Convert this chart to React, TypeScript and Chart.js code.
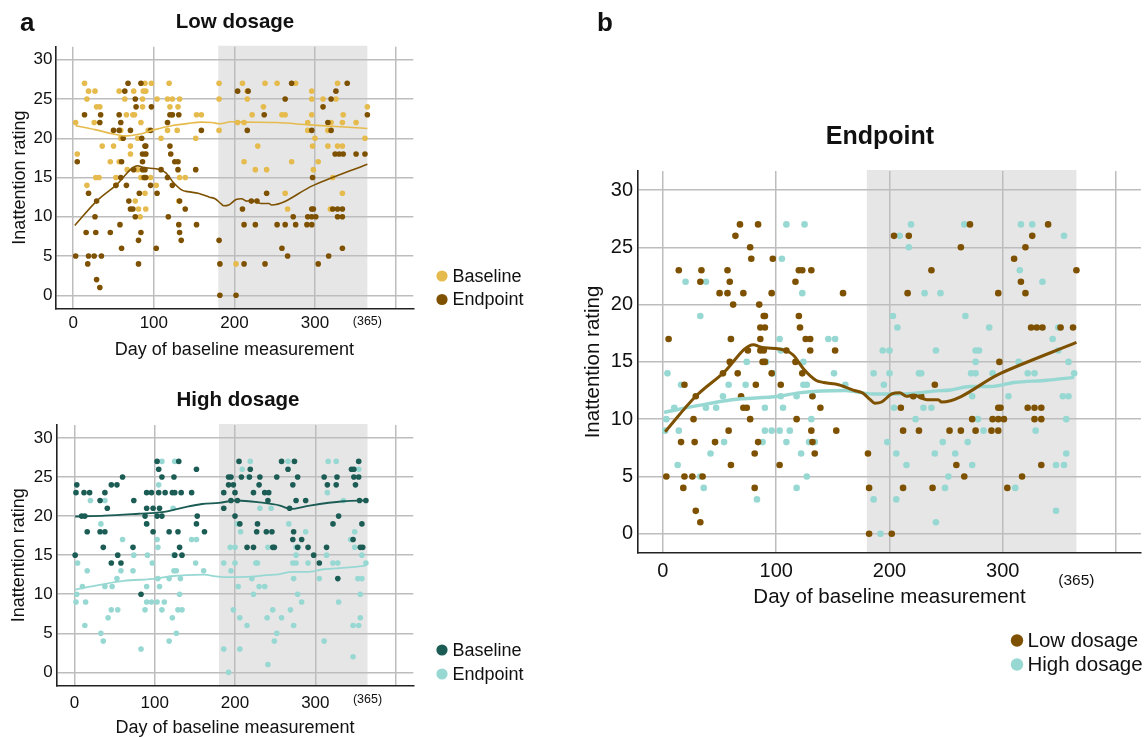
import React, { useEffect, useRef } from 'react';
import { Chart, registerables } from 'chart.js';

Chart.register(...registerables);

const FONT = '"Liberation Sans", Arial, Helvetica, sans-serif';

// ---------- axis / annotation values ----------
const xTicks = [0, 100, 200, 300, 400];
const xTickLabels = ['0', '100', '200', '300', ''];
const yTicks = [0, 5, 10, 15, 20, 25, 30];
const xRange = [-22, 422];
const yRange = [-1.68, 31.66];
const shadeFrom = 180;
const shadeTo = 365;
const yearEnd = 365;
const yearEndLabel = '(365)';

// ---------- data: [day, rating] ----------
const lowBaseline = [
  [14, 27], [89, 27], [97, 27], [119, 27], [181, 27], [210, 27], [238, 27], [253, 27], [276, 27], [328, 27],
  [19, 26], [27, 26], [57, 26], [75, 26], [87, 26], [90, 26], [216, 26], [296, 26],
  [17, 25], [64, 25], [86, 25], [104, 25], [117, 25], [123, 25], [132, 25], [181, 25], [216, 25], [296, 25], [310, 25], [326, 25],
  [29, 24], [33, 24], [86, 24], [120, 24], [130, 24], [236, 24], [365, 24],
  [66, 23], [74, 23], [76, 23], [123, 23], [153, 23], [159, 23], [222, 23], [259, 23], [263, 23], [296, 23], [335, 23],
  [3, 22], [26, 22], [84, 22], [204, 22], [212, 22], [291, 22], [320, 22], [334, 22], [351, 22],
  [59, 21], [93, 21], [117, 21], [129, 21], [181, 21], [291, 21], [316, 21],
  [59, 20], [80, 20], [109, 20], [152, 20], [300, 20], [362, 20],
  [36, 19], [50, 19], [71, 19], [229, 19], [297, 19], [316, 19], [328, 19], [334, 19],
  [5, 18], [71, 18], [90, 18],
  [46, 17], [57, 17], [212, 17], [271, 17], [304, 17],
  [67, 16], [80, 16], [226, 16], [240, 16], [298, 16],
  [28, 15], [32, 15], [53, 15], [84, 15], [96, 15], [132, 15], [139, 15], [322, 15],
  [17, 14], [53, 14], [103, 14],
  [89, 13], [263, 13], [334, 13],
  [77, 12], [131, 12],
  [81, 11], [90, 11], [266, 11], [319, 11],
  [83, 10],
  [202, 4],
];

const lowEndpoint = [
  [68, 27], [84, 27], [271, 27], [340, 27],
  [64, 26], [204, 26], [217, 26], [326, 26],
  [77, 25], [263, 25], [320, 25],
  [78, 24], [97, 24], [310, 24],
  [14, 23], [34, 23], [57, 23], [120, 23], [123, 23], [131, 23], [237, 23], [365, 23],
  [33, 22], [59, 22], [117, 22], [316, 22],
  [50, 21], [57, 21], [71, 21], [96, 21], [159, 21], [216, 21], [296, 21], [320, 21],
  [62, 20], [85, 20],
  [89, 19], [90, 19], [120, 19],
  [86, 18], [90, 18], [121, 18], [325, 18], [330, 18], [335, 18], [351, 18], [362, 18],
  [5, 17], [60, 17], [86, 17], [126, 17], [130, 17],
  [75, 16], [86, 16], [89, 16], [109, 16], [130, 16], [152, 16],
  [59, 15], [88, 15], [90, 15], [117, 15], [297, 15],
  [53, 14], [66, 14], [96, 14], [123, 14],
  [19, 13], [82, 13], [104, 13], [240, 13],
  [29, 12], [69, 12], [132, 12], [221, 12], [228, 12],
  [71, 11], [74, 11], [139, 11], [210, 11], [296, 11], [298, 11], [322, 11], [328, 11], [334, 11],
  [27, 10], [77, 10], [118, 10], [273, 10], [291, 10], [296, 10], [301, 10], [328, 10], [334, 10],
  [58, 9], [131, 9], [153, 9], [212, 9], [226, 9], [253, 9], [263, 9], [276, 9], [290, 9], [296, 9],
  [16, 8], [28, 8], [46, 8], [84, 8], [132, 8],
  [81, 7], [134, 7], [181, 7],
  [60, 6], [103, 6], [259, 6], [334, 6],
  [3, 5], [19, 5], [26, 5], [35, 5], [266, 5], [317, 5],
  [18, 4], [81, 4], [182, 4], [212, 4], [238, 4], [304, 4],
  [29, 2], [33, 1], [182, 0], [202, 0],
];

const highBaseline = [
  [103, 27], [130, 27], [205, 27], [258, 27], [274, 27], [354, 27],
  [105, 26], [152, 26], [219, 26], [266, 26], [345, 26], [348, 26],
  [60, 25], [109, 25], [124, 25], [192, 25], [195, 25], [208, 25], [218, 25], [231, 25], [252, 25], [278, 25], [311, 25], [327, 25], [348, 25], [354, 25],
  [3, 24], [46, 24], [53, 24], [192, 24], [198, 24], [230, 24], [272, 24], [315, 24], [326, 24], [350, 24],
  [2, 23], [12, 23], [19, 23], [38, 23], [90, 23], [96, 23], [105, 23], [113, 23], [122, 23], [125, 23], [133, 23], [146, 23], [186, 23], [200, 23], [223, 23], [237, 23], [242, 23],
  [32, 22], [74, 22], [195, 22], [203, 22], [241, 22], [276, 22], [288, 22], [355, 22], [363, 22],
  [41, 21], [90, 21], [98, 21], [106, 21], [186, 21], [268, 21],
  [9, 20], [13, 20], [88, 20], [103, 20], [109, 20], [153, 20], [200, 20], [329, 20],
  [90, 19], [152, 19], [206, 19], [228, 19], [322, 19], [358, 19],
  [16, 18], [32, 18], [38, 18], [98, 18], [118, 18], [129, 18], [162, 18], [227, 18], [239, 18], [246, 18], [273, 18],
  [272, 17], [283, 17], [347, 17],
  [36, 16], [73, 16], [131, 16], [215, 16], [223, 16], [247, 16], [249, 16], [278, 16], [291, 16], [314, 16], [356, 16], [359, 16],
  [1, 15], [54, 15], [125, 15], [134, 15], [298, 15],
  [46, 14], [58, 14], [305, 14],
  [328, 12],
  [83, 10],
];

const highEndpoint = [
  [109, 27], [125, 27], [219, 27], [266, 27], [316, 27], [326, 27],
  [209, 26], [354, 26],
  [217, 25],
  [105, 24],
  [315, 23],
  [20, 22], [38, 22], [335, 22],
  [123, 21], [231, 21], [245, 21],
  [33, 19], [90, 19], [203, 19], [267, 19],
  [207, 18], [288, 18], [349, 18],
  [60, 17], [103, 17], [146, 17], [152, 17], [344, 17],
  [104, 16], [194, 16], [200, 16], [241, 16], [276, 16], [279, 16], [349, 16],
  [74, 15], [91, 15], [124, 15], [276, 15], [314, 15], [358, 15],
  [4, 14], [97, 14], [151, 14], [186, 14], [200, 14], [226, 14], [228, 14], [272, 14], [276, 14], [291, 14], [322, 14], [328, 14], [363, 14],
  [16, 13], [58, 13], [73, 13], [124, 13], [127, 13], [161, 13], [195, 13],
  [53, 12], [104, 12], [118, 12], [132, 12], [221, 12], [273, 12], [305, 12], [353, 12], [358, 12],
  [10, 11], [38, 11], [47, 11], [90, 11], [106, 11], [204, 11], [230, 11], [237, 11],
  [3, 10], [131, 10], [223, 10], [278, 10], [356, 10],
  [2, 9], [14, 9], [90, 9], [96, 9], [103, 9], [112, 9], [283, 9], [329, 9],
  [46, 8], [54, 8], [88, 8], [109, 8], [129, 8], [134, 8], [198, 8], [247, 8], [269, 8],
  [42, 7], [122, 7], [206, 7], [240, 7], [258, 7], [356, 7],
  [13, 6], [215, 6], [273, 6], [347, 6], [354, 6],
  [33, 5], [127, 5], [252, 5],
  [36, 4], [118, 4], [249, 4], [311, 4],
  [83, 3], [186, 3], [206, 3],
  [347, 2], [241, 1], [192, 0],
];

// ---------- smoothed trend lines ----------
const lowBaselineTrend = [
  [3, 21.6], [27, 21.1], [52, 20.5], [66, 20.3], [81, 20.5], [101, 21.1], [122, 21.6], [143, 21.9],
  [159, 22.05], [172, 22.0], [182, 21.85], [196, 22.1], [211, 22.05], [252, 22.0], [293, 21.7], [326, 21.5], [365, 21.25],
];
const lowEndpointTrend = [
  [2, 8.9], [29, 12], [53, 14], [80, 16.5], [86, 16.3], [108, 16], [115, 15.6], [124, 14.4], [135, 13.4],
  [142, 13.2], [155, 13], [161, 12.8], [169, 12.5], [176, 12.3], [183, 11.7], [187, 11.4], [193, 11.5],
  [202, 12.2], [209, 12.3], [215, 12], [221, 12.1], [233, 11.7], [243, 11.7], [246, 11.5], [298, 14], [365, 16.7],
];
const highBaselineTrend = [
  [1, 19.95], [38, 20.05], [80, 20.3], [109, 20.5], [134, 21.05], [159, 21.55], [180, 21.7], [202, 22.0],
  [231, 21.75], [256, 21.35], [269, 20.9], [293, 21.35], [335, 21.9], [364, 22.0],
];
const highEndpointTrend = [
  [1, 10.6], [32, 11.2], [61, 11.7], [102, 12.0], [120, 12.3], [161, 12.5], [179, 12.25], [186, 12.2],
  [203, 12.2], [221, 12.25], [239, 12.45], [254, 12.55], [271, 12.85], [289, 12.85], [310, 13.2], [339, 13.4], [363, 13.65],
];

// ---------- styles ----------
const C_YELLOW = '#e6bb4d';
const C_BROWN = '#7d5100';
const C_DARKTEAL = '#1b5c55';
const C_LIGHTTEAL = '#98d8d3';
const C_SHADE = '#e6e6e6';
const C_GRID = '#bdbdbd';
const C_TEXT = '#111111';

type Series = { label: string; data: number[][]; color: string; line?: boolean; width?: number };

interface Layout {
  left: number; top: number; width: number; height: number;
  pad: { left: number; right: number; top: number; bottom: number };
  yAxisWidth: number; xAxisHeight: number;
  tickSize: number; axisTitleSize: number;
  xTickPad: number; yTickPad: number; yTitlePad: number; xTitlePad: number;
  pointRadius: number;
  title: string; titleX: number; titleY: number; titleSize: number;
  letter?: string; letterX?: number; letterY?: number;
  yearOffset: number; yearSize: number;
  legend: { label: string; color: string }[];
  legendX: number; legendTextX: number; legendYs: number[]; legendSize: number; legendRadius: number;
}

const toXY = (arr: number[][]) => arr.map(([x, y]) => ({ x, y }));

function buildConfig(L: Layout, series: Series[]): any {
  const decor = {
    id: 'decor',
    beforeDraw(chart: any) {
      const { ctx, chartArea: a, scales } = chart;
      const x0 = scales.x.getPixelForValue(shadeFrom);
      const x1 = scales.x.getPixelForValue(shadeTo);
      ctx.save();
      ctx.fillStyle = C_SHADE;
      ctx.fillRect(x0, a.top - 1, x1 - x0, a.bottom - a.top + 1);
      ctx.restore();
    },
    afterDraw(chart: any) {
      const { ctx, chartArea: a, scales } = chart;
      ctx.save();
      ctx.fillStyle = C_TEXT;
      // panel title
      ctx.font = `bold ${L.titleSize}px ${FONT}`;
      ctx.textAlign = 'center';
      ctx.textBaseline = 'middle';
      ctx.fillText(L.title, L.titleX, L.titleY);
      // panel letter
      if (L.letter) {
        ctx.font = `bold 26px ${FONT}`;
        ctx.textAlign = 'left';
        ctx.textBaseline = 'alphabetic';
        ctx.fillText(L.letter, L.letterX!, L.letterY!);
      }
      // (365) marker label
      ctx.font = `${L.yearSize}px ${FONT}`;
      ctx.textAlign = 'center';
      ctx.textBaseline = 'middle';
      ctx.fillText(yearEndLabel, scales.x.getPixelForValue(yearEnd), a.bottom + L.yearOffset);
      // legend
      L.legend.forEach((item, i) => {
        const y = L.legendYs[i];
        ctx.beginPath();
        ctx.fillStyle = item.color;
        ctx.arc(L.legendX, y, L.legendRadius, 0, Math.PI * 2);
        ctx.fill();
        ctx.fillStyle = C_TEXT;
        ctx.font = `${L.legendSize}px ${FONT}`;
        ctx.textAlign = 'left';
        ctx.textBaseline = 'middle';
        ctx.fillText(item.label, L.legendTextX, y + 1);
      });
      ctx.restore();
    },
  };

  const datasets = series.map((s, i) =>
    s.line
      ? {
          type: 'scatter', label: s.label, data: toXY(s.data), showLine: true,
          borderColor: s.color, borderWidth: s.width, pointRadius: 0, pointHoverRadius: 0,
          cubicInterpolationMode: 'monotone', fill: false, order: i,
        }
      : {
          type: 'scatter', label: s.label, data: toXY(s.data), backgroundColor: s.color,
          borderWidth: 0, pointRadius: L.pointRadius, pointHoverRadius: L.pointRadius, order: i,
        }
  );

  const tickFont = { family: FONT, size: L.tickSize };
  const titleFont = { family: FONT, size: L.axisTitleSize };

  return {
    type: 'scatter',
    data: { datasets },
    plugins: [decor],
    options: {
      animation: false,
      responsive: false,
      maintainAspectRatio: false,
      devicePixelRatio: 1,
      layout: { padding: L.pad },
      plugins: { legend: { display: false }, tooltip: { enabled: false }, title: { display: false } },
      scales: {
        x: {
          type: 'linear', min: xRange[0], max: xRange[1],
          afterBuildTicks: (s: any) => { s.ticks = xTicks.map((v) => ({ value: v })); },
          afterFit: (s: any) => { s.height = L.xAxisHeight; },
          ticks: {
            autoSkip: false, maxRotation: 0, padding: L.xTickPad, color: C_TEXT, font: tickFont,
            callback: (v: number) => xTickLabels[xTicks.indexOf(v)] ?? '',
          },
          grid: { color: C_GRID, lineWidth: 1.5, drawTicks: false },
          border: { display: true, color: '#222', width: 1.6 },
          title: { display: true, text: 'Day of baseline measurement', color: C_TEXT, font: titleFont, padding: { top: 0, bottom: L.xTitlePad } },
        },
        y: {
          type: 'linear', min: yRange[0], max: yRange[1],
          afterBuildTicks: (s: any) => { s.ticks = yTicks.map((v) => ({ value: v })); },
          afterFit: (s: any) => { s.width = L.yAxisWidth; },
          ticks: { padding: L.yTickPad, color: C_TEXT, font: tickFont },
          grid: { color: C_GRID, lineWidth: 1.5, drawTicks: false },
          border: { display: true, color: '#222', width: 1.6 },
          title: { display: true, text: 'Inattention rating', color: C_TEXT, font: titleFont, padding: { top: L.yTitlePad, bottom: 0 } },
        },
      },
    },
  };
}

function Panel({ layout, series }: { layout: Layout; series: Series[] }) {
  const ref = useRef<HTMLCanvasElement>(null);
  useEffect(() => {
    const chart = new Chart(ref.current as HTMLCanvasElement, buildConfig(layout, series));
    return () => chart.destroy();
  }, []);
  return (
    <canvas
      ref={ref}
      width={layout.width}
      height={layout.height}
      style={{ position: 'absolute', left: layout.left, top: layout.top, width: layout.width, height: layout.height }}
    />
  );
}

const lowLayout: Layout = {
  left: 0, top: 0, width: 560, height: 372,
  pad: { left: 0, right: 146.7, top: 46.7, bottom: 0 },
  yAxisWidth: 55.5, xAxisHeight: 63.5,
  tickSize: 17, axisTitleSize: 18,
  xTickPad: 5, yTickPad: 3, yTitlePad: 9, xTitlePad: 11,
  pointRadius: 2.8,
  title: 'Low dosage', titleX: 235, titleY: 22, titleSize: 20.5,
  letter: 'a', letterX: 20, letterY: 31,
  yearOffset: 13.5, yearSize: 12.5,
  legend: [{ label: 'Baseline', color: C_YELLOW }, { label: 'Endpoint', color: C_BROWN }],
  legendX: 442, legendTextX: 452.5, legendYs: [276, 299.5], legendSize: 18, legendRadius: 5.6,
};

const highLayout: Layout = {
  left: 0, top: 372, width: 560, height: 380,
  pad: { left: 0, right: 146.7, top: 53, bottom: 0 },
  yAxisWidth: 56.7, xAxisHeight: 66.5,
  tickSize: 17, axisTitleSize: 18,
  xTickPad: 8, yTickPad: 4, yTitlePad: 8.7, xTitlePad: 13.5,
  pointRadius: 2.8,
  title: 'High dosage', titleX: 238, titleY: 28, titleSize: 20.5,
  yearOffset: 14.5, yearSize: 12.5,
  legend: [{ label: 'Baseline', color: C_DARKTEAL }, { label: 'Endpoint', color: C_LIGHTTEAL }],
  legendX: 442, legendTextX: 452.5, legendYs: [278, 302], legendSize: 18, legendRadius: 5.6,
};

const endLayout: Layout = {
  left: 560, top: 0, width: 586, height: 737,
  pad: { left: 0, right: 5, top: 171, bottom: 100 },
  yAxisWidth: 78, xAxisHeight: 84,
  tickSize: 20, axisTitleSize: 20.5,
  xTickPad: 6, yTickPad: 5, yTitlePad: 20.7, xTitlePad: 27.4,
  pointRadius: 3.3,
  title: 'Endpoint', titleX: 320, titleY: 137, titleSize: 25,
  letter: 'b', letterX: 37, letterY: 31,
  yearOffset: 28, yearSize: 15.5,
  legend: [{ label: 'Low dosage', color: C_BROWN }, { label: 'High dosage', color: C_LIGHTTEAL }],
  legendX: 457, legendTextX: 467.5, legendYs: [640.5, 664.5], legendSize: 20.5, legendRadius: 6.2,
};

const lowSeries: Series[] = [
  { label: 'Endpoint trend', data: lowEndpointTrend, color: C_BROWN, line: true, width: 1.6 },
  { label: 'Baseline trend', data: lowBaselineTrend, color: C_YELLOW, line: true, width: 1.6 },
  { label: 'Endpoint', data: lowEndpoint, color: C_BROWN },
  { label: 'Baseline', data: lowBaseline, color: C_YELLOW },
];

const highSeries: Series[] = [
  { label: 'Baseline trend', data: highBaselineTrend, color: C_DARKTEAL, line: true, width: 1.8 },
  { label: 'Endpoint trend', data: highEndpointTrend, color: C_LIGHTTEAL, line: true, width: 1.8 },
  { label: 'Baseline', data: highBaseline, color: C_DARKTEAL },
  { label: 'Endpoint', data: highEndpoint, color: C_LIGHTTEAL },
];

const endSeries: Series[] = [
  { label: 'Low dosage trend', data: lowEndpointTrend, color: C_BROWN, line: true, width: 3 },
  { label: 'High dosage trend', data: highEndpointTrend, color: C_LIGHTTEAL, line: true, width: 3.4 },
  { label: 'Low dosage', data: lowEndpoint, color: C_BROWN },
  { label: 'High dosage', data: highEndpoint, color: C_LIGHTTEAL },
];

export default function App() {
  return (
    <div style={{ position: 'absolute', left: 0, top: 0, width: 1146, height: 737, overflow: 'hidden', background: '#fff' }}>
      <Panel layout={lowLayout} series={lowSeries} />
      <Panel layout={highLayout} series={highSeries} />
      <Panel layout={endLayout} series={endSeries} />
    </div>
  );
}
